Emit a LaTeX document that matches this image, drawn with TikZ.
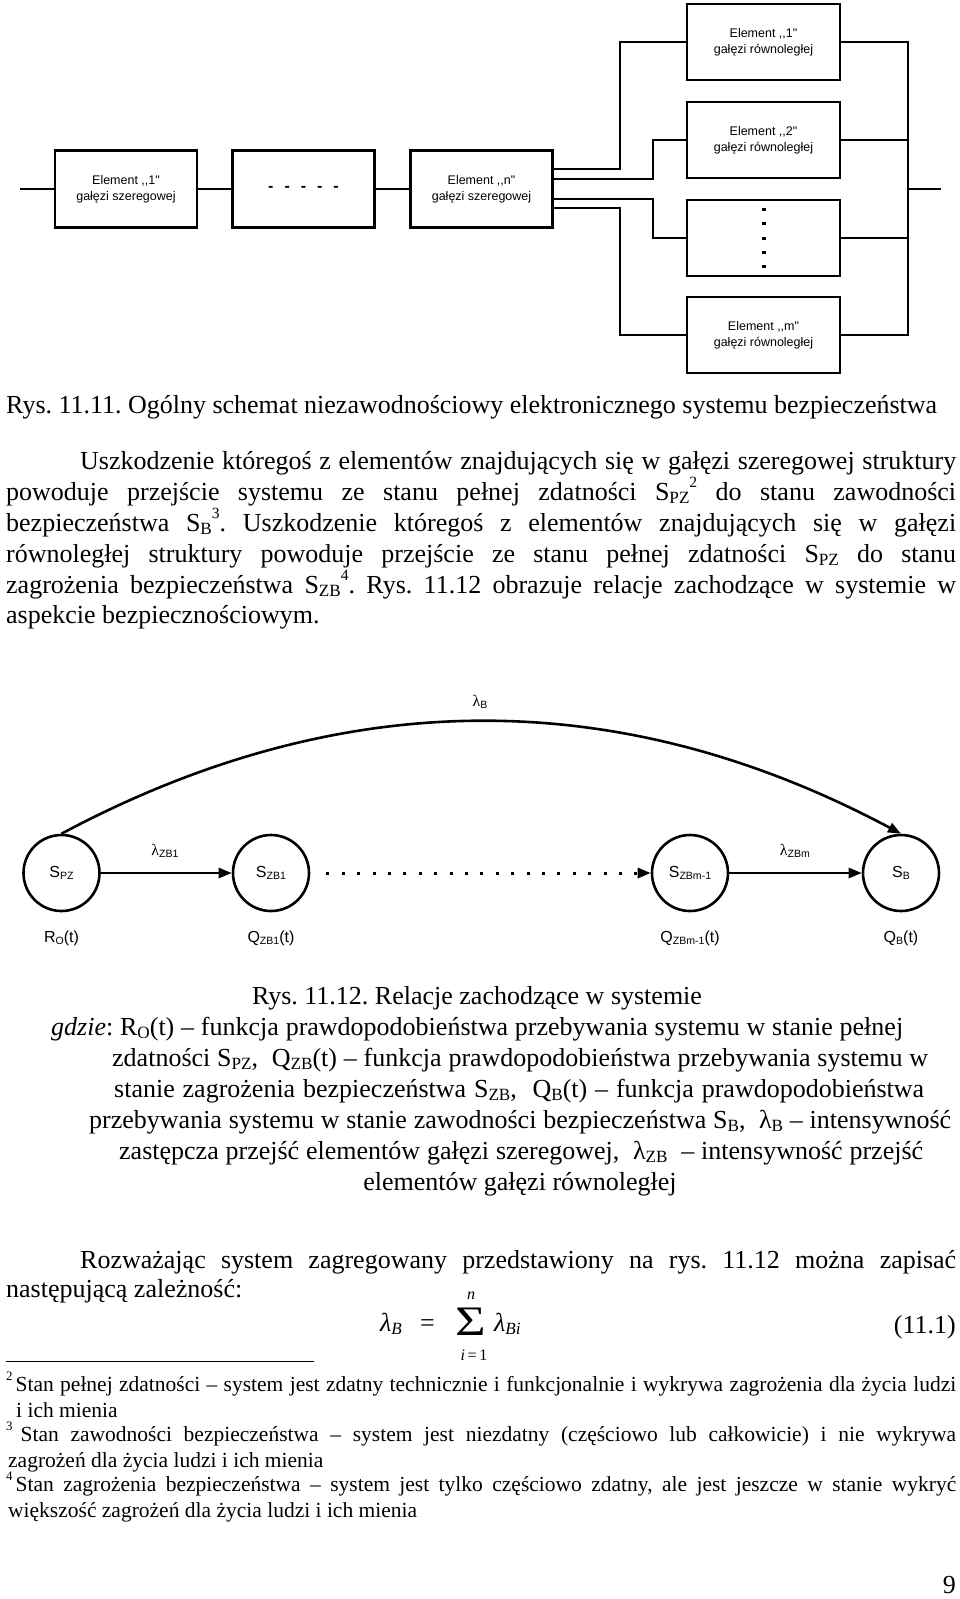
\documentclass[tikz,border=0pt]{standalone}
\usepackage{fontspec}
\usepackage{graphicx}
\setmainfont{Liberation Serif}
\newfontfamily\arial{Liberation Sans}
\usetikzlibrary{arrows.meta}
\newcommand\mysub[1]{\raisebox{-0.12em}{\scalebox{0.66}{#1}}}
\newcommand\mysup[1]{\raisebox{0.48em}{\scalebox{0.6}{#1}}}
\tikzset{
  box/.style={draw, line width=2.6pt, minimum width=142pt, minimum height=77pt, inner sep=0pt, align=center, font=\arial\fontsize{12.5}{16}\selectfont},
  pbox/.style={box, minimum width=153pt, minimum height=76pt},
  wire/.style={line width=2.6pt},
  st/.style={draw, circle, line width=2.6pt, minimum size=76pt, inner sep=0pt, font=\arial\fontsize{16}{16}\selectfont},
  lbl/.style={inner sep=0pt, font=\arial\fontsize{16}{16}\selectfont},
  body/.style={inner sep=0pt, anchor=base west, font=\fontsize{26}{30}\selectfont\frenchspacing},
  fn/.style={inner sep=0pt, anchor=base west, font=\fontsize{21.5}{25}\selectfont\frenchspacing},
  tip/.style={-{Triangle[length=13pt,width=10pt]}}
}
\begin{document}
\begin{tikzpicture}[x=1pt,y=-1pt]
\fill[white] (0,0) rectangle (960,1599);
\useasboundingbox (0,0) rectangle (960,1599);

% ---------- Rys. 11.11 ----------
\node[box] (s1) at (126,189) {Element {,}{,}1"\\gałęzi szeregowej};
\node[box] (s2) at (303.5,189) {\fontsize{16}{16}\selectfont\bfseries -\hspace{11pt}-\hspace{11pt}-\hspace{11pt}-\hspace{11pt}-};
\node[box] (sn) at (481.5,189) {Element {,}{,}n"\\gałęzi szeregowej};
\node[pbox] (p1) at (763.5,42) {Element {,}{,}1"\\gałęzi równoległej};
\node[pbox] (p2) at (763.5,140) {Element {,}{,}2"\\gałęzi równoległej};
\node[pbox] (p3) at (763.5,238) {};
\node[pbox] (pm) at (763.5,335) {Element {,}{,}m"\\gałęzi równoległej};
\foreach \yy in {209,223,238,252,266}
  \fill (762,{\yy-1.5}) rectangle (765.5,{\yy+1.5});
\coordinate (in) at (20,189);
\coordinate (bus) at (908,189);
\coordinate (out) at (941,189);
\draw[wire] (in) -- (s1.west);
\draw[wire] (s1.east) -- (s2.west);
\draw[wire] (s2.east) -- (sn.west);
\draw[wire] ([yshift=20pt]sn.east) -- ++(66,0) |- (p1.west);
\draw[wire] ([yshift=10pt]sn.east) -- ++(99,0) |- (p2.west);
\draw[wire] ([yshift=-10pt]sn.east) -- ++(99,0) |- (p3.west);
\draw[wire] ([yshift=-19pt]sn.east) -- ++(66,0) |- (pm.west);
\draw[wire] (p1.east) -- (p1.east -| bus) -- (pm.east -| bus) -- (pm.east);
\draw[wire] (p2.east) -- (p2.east -| bus);
\draw[wire] (p3.east) -- (p3.east -| bus);
\draw[wire] (bus) -- (out);

\node[body] (cap1) at (6,413) {\makebox[931pt][s]{Rys. 11.11. Ogólny schemat niezawodnościowy elektronicznego systemu bezpieczeństwa}};

% ---------- paragraph ----------
\node[body] (t1) at (80,469) {\makebox[876pt][s]{Uszkodzenie któregoś z elementów znajdujących się w gałęzi szeregowej struktury}};
\node[body] (t2) at (6,500) {\makebox[950pt][s]{powoduje przejście systemu ze stanu pełnej zdatności S\mysub{PZ}\mysup{2} do stanu zawodności}};
\node[body] (t3) at (6,531) {\makebox[950pt][s]{bezpieczeństwa S\mysub{B}\mysup{3}. Uszkodzenie któregoś z elementów znajdujących się w gałęzi}};
\node[body] (t4) at (6,562) {\makebox[950pt][s]{równoległej struktury powoduje przejście ze stanu pełnej zdatności S\mysub{PZ} do stanu}};
\node[body] (t5) at (6,593) {\makebox[950pt][s]{zagrożenia bezpieczeństwa S\mysub{ZB}\mysup{4}. Rys. 11.12 obrazuje relacje zachodzące w systemie w}};
\node[body] (t6) at (6,623) {aspekcie bezpiecznościowym.};

% ---------- Rys. 11.12 ----------
\node[st] (spz) at (61.5,873) {S\mysub{PZ}};
\node[st] (szb1) at (271,873) {S\mysub{ZB1}};
\node[st] (szbm) at (690,873) {S\mysub{ZBm-1}};
\node[st] (sb) at (901,873) {S\mysub{B}};
\draw[wire,tip] (spz) -- (szb1);
\draw[line width=3pt,tip,dash pattern=on 3pt off 12.4pt,shorten <=16pt] (szb1) -- (szbm);
\draw[wire,tip] (szbm) -- (sb);
\draw[wire,tip] (spz.north) .. controls (342,684) and (620,684) .. (sb.north);
\node[lbl] (lb) at (480,702) {{\rmfamily λ}\mysub{B}};
\node[lbl] (l1) at (165,851) {{\rmfamily λ}\mysub{ZB1}};
\node[lbl] (l2) at (795,851) {{\rmfamily λ}\mysub{ZBm}};
\node[lbl] (ro) at (61.5,938) {R\mysub{O}(t)};
\node[lbl] (q1) at (271,938) {Q\mysub{ZB1}(t)};
\node[lbl] (qm) at (690,938) {Q\mysub{ZBm-1}(t)};
\node[lbl] (qb) at (901,938) {Q\mysub{B}(t)};

\node[body,anchor=base] (cap2) at (477,1004) {Rys. 11.12. Relacje zachodzące w systemie};
\node[body] (w1) at (51,1035) {\makebox[852pt][s]{\textit{gdzie}: R\mysub{O}(t) – funkcja prawdopodobieństwa przebywania systemu w stanie pełnej}};
\node[body] (w2) at (112,1066) {\makebox[816pt][s]{zdatności S\mysub{PZ}, \ Q\mysub{ZB}(t) – funkcja prawdopodobieństwa przebywania systemu w}};
\node[body] (w3) at (114,1097) {\makebox[810pt][s]{stanie zagrożenia bezpieczeństwa S\mysub{ZB}, \ Q\mysub{B}(t) – funkcja prawdopodobieństwa}};
\node[body] (w4) at (89,1128) {\makebox[862pt][s]{przebywania systemu w stanie zawodności bezpieczeństwa S\mysub{B}, \ λ\mysub{B} – intensywność}};
\node[body] (w5) at (119,1159) {\makebox[804pt][s]{zastępcza przejść elementów gałęzi szeregowej, \ λ\mysub{ZB} \ – intensywność przejść}};
\node[body,anchor=base] (w6) at (520,1190) {elementów gałęzi równoległej};

% ---------- formula ----------
\node[body] (r1) at (80,1268) {\makebox[876pt][s]{Rozważając system zagregowany przedstawiony na rys. 11.12 można zapisać}};
\node[body] (r2) at (6,1297) {następującą zależność:};
\node[body] (fl) at (380,1331) {\textit{λ}\mysub{\textit{B}}};
\node[body] (feq) at (420,1331) {=};
\node[inner sep=0pt] (fsum) at (471,1322) {\fontsize{42}{42}\selectfont\scalebox{1.25}[1]{Σ}};
\node[inner sep=0pt,font=\fontsize{16}{16}\selectfont] (fn1) at (471,1296) {\textit{n}};
\node[inner sep=0pt,font=\fontsize{16}{16}\selectfont] (fi1) at (474,1355) {\textit{i}\,=\,1};
\node[body] (fr) at (494,1331) {\textit{λ}\mysub{\textit{Bi}}};
\node[body,anchor=base east] (fno) at (956,1333) {(11.1)};

% ---------- footnotes ----------
\draw[line width=1pt] (6,1361) -- (314,1361);
\node[fn] (n2) at (6,1391) {\makebox[950pt][s]{\mysup{2}\hspace{3pt}Stan pełnej zdatności – system jest zdatny technicznie i funkcjonalnie i wykrywa zagrożenia dla życia ludzi}};
\node[fn] (n2b) at (16,1417) {i ich mienia};
\node[fn] (n3) at (6,1441) {\makebox[950pt][s]{\mysup{3}\hspace{8pt}Stan zawodności bezpieczeństwa – system jest niezdatny (częściowo lub całkowicie) i nie wykrywa}};
\node[fn] (n3b) at (8,1467) {zagrożeń dla życia ludzi i ich mienia};
\node[fn] (n4) at (6,1491) {\makebox[950pt][s]{\mysup{4}\hspace{3pt}Stan zagrożenia bezpieczeństwa – system jest tylko częściowo zdatny, ale jest jeszcze w stanie wykryć}};
\node[fn] (n4b) at (8,1517) {większość zagrożeń dla życia ludzi i ich mienia};
\node[body,anchor=base east] (pg) at (956,1593) {9};
\end{tikzpicture}
\end{document}
